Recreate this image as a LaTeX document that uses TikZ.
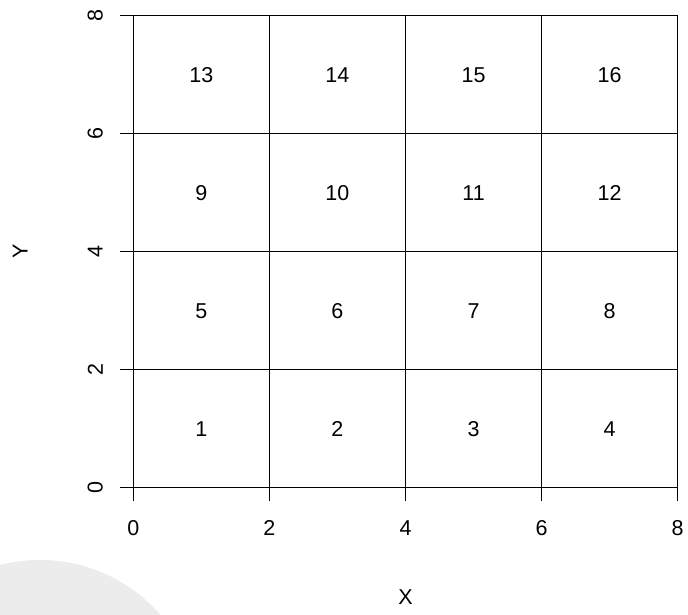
\documentclass[tikz,border=0pt]{standalone}
\usepackage{fontspec}
\setmainfont{Liberation Sans}
\usepackage{tikz}
\usetikzlibrary{positioning}
\usepackage{xcolor}
\definecolor{ink}{RGB}{0,0,0}
\definecolor{haze}{RGB}{236,236,236}

\begin{document}
\begin{tikzpicture}[font=\fontsize{21.5}{25}\selectfont,
    gridline/.style={ink, line width=1.5pt},
    cell/.style={inner sep=0pt, text=ink, text height=15.4pt, text depth=0pt},
    ticklabel/.style={inner sep=0pt, text=ink}]
  \useasboundingbox (0,0) rectangle (688pt,614pt);
  % faint disc in the lower left corner
  \begin{scope}
    \clip (0,0) rectangle (688pt,614pt);
    \fill[haze] (40pt,-106pt) circle (160pt);
  \end{scope}
  % plot region, one unit per grid step
  \begin{scope}[x=68.05pt, y=59pt, shift={(133.3pt,126.3pt)}]
    % grid lines, each with its tick
    \foreach \k in {0,2,...,8} {
      \draw[gridline] (\k,8) -- (\k,0) -- ++(0,-13pt);
      \draw[gridline] (0,\k) ++(-13pt,0) -- (8,\k);
      \node[ticklabel] (xt\k) at ([yshift=-40pt]\k,0) {\k};
      \node[ticklabel, rotate=90] (yt\k) at ([xshift=-38pt]0,\k) {\k};
    }
    % cell numbers
    \foreach \row in {0,...,3}
      \foreach \col in {0,...,3} {
        \pgfmathtruncatemacro\n{4*\row+\col+1}
        \node[cell] (c\n) at (2*\col+1, 2*\row+1) {\n};
      }
    % axis titles
    \node[ticklabel] (xlab) at ([yshift=-109pt]4,0) {X};
    \node[ticklabel, rotate=90] (ylab) at ([xshift=-113pt]0,4) {Y};
  \end{scope}
\end{tikzpicture}
\end{document}
